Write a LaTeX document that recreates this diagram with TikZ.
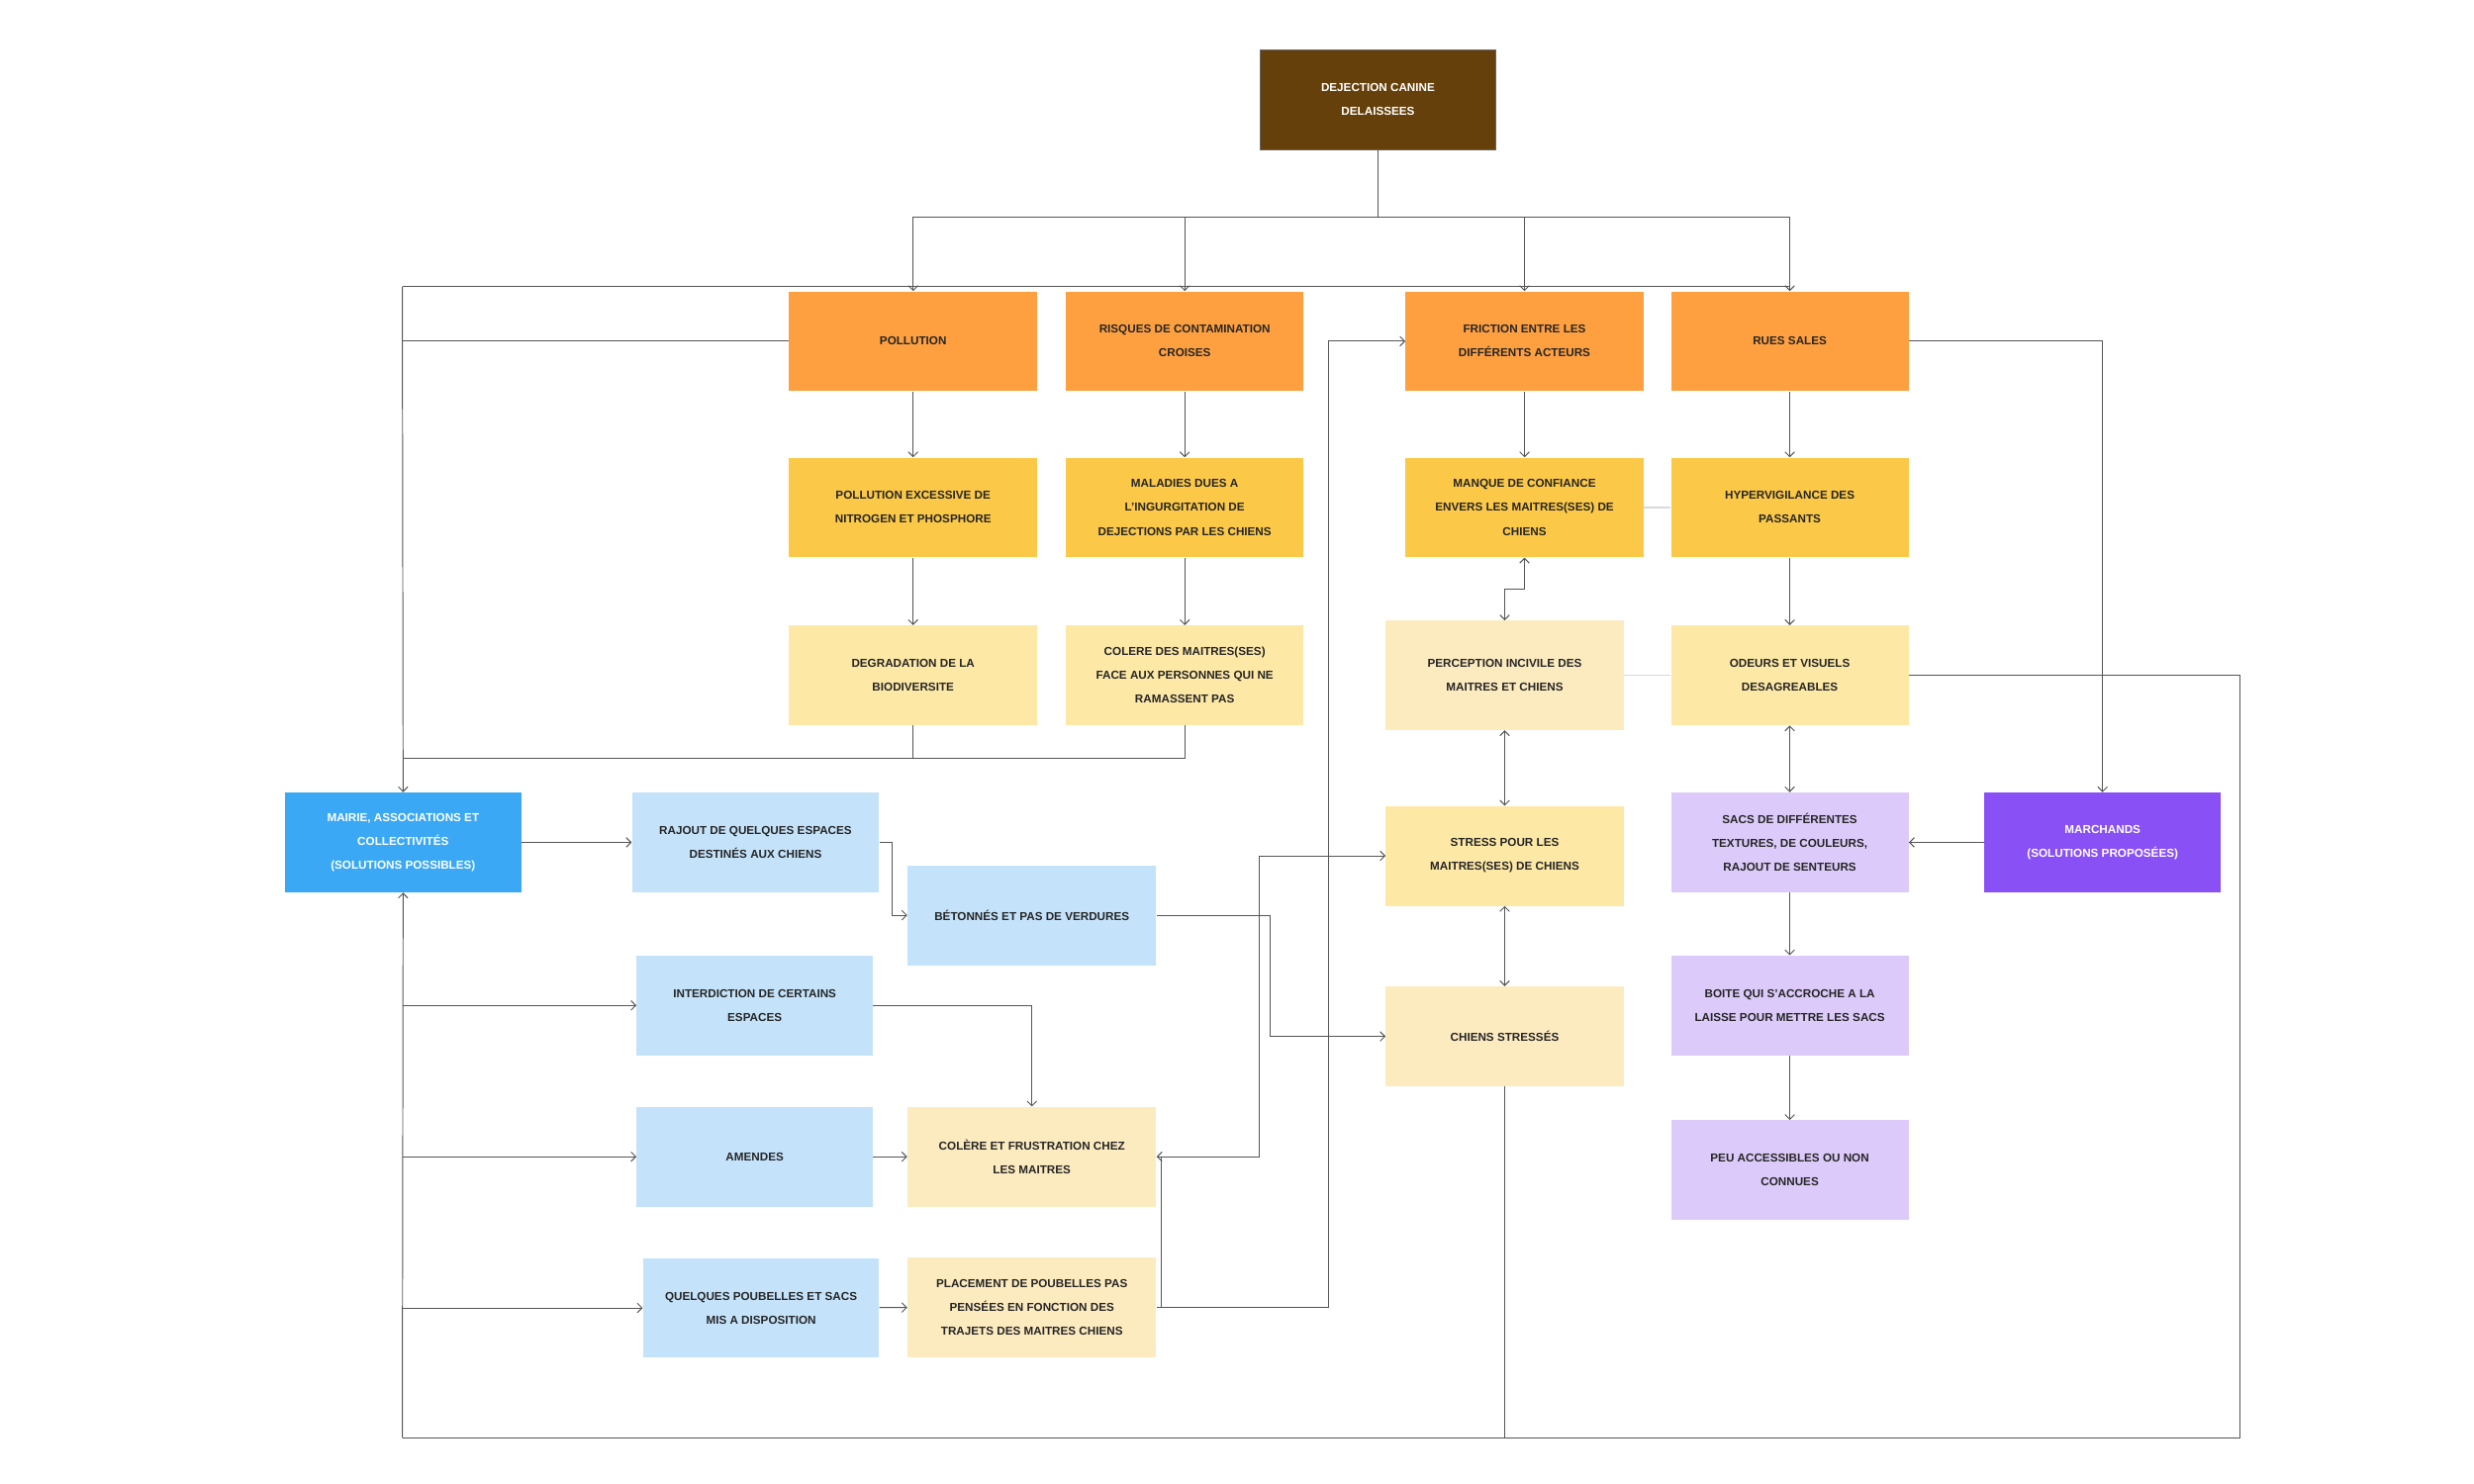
\documentclass[tikz,border=0pt]{standalone}
\usepackage{fontspec}
\setmainfont{Liberation Sans}
\usetikzlibrary{arrows.meta}
\definecolor{brn}{HTML}{66400A}
\definecolor{org}{HTML}{FFA040}
\definecolor{yel}{HTML}{FCC847}
\definecolor{pyel}{HTML}{FDE8A6}
\definecolor{pale}{HTML}{FDEBC0}
\definecolor{blu}{HTML}{3AA8F5}
\definecolor{lblu}{HTML}{C4E3FB}
\definecolor{lav}{HTML}{DCCBFA}
\definecolor{pur}{HTML}{8850F5}
\definecolor{ln}{HTML}{555555}
\begin{document}
\begin{tikzpicture}[x=1pt,y=-1pt,
 box/.style={minimum width=150pt,minimum height=63pt,inner sep=1pt,align=center,
   font=\fontsize{7.3}{15}\selectfont\bfseries,text=black!85},
 c/.style={draw=ln,line width=0.6pt},
 a/.style={c,-{Straight Barb[length=3pt,width=6pt]}},
 b/.style={c,{Straight Barb[length=3pt,width=6pt]}-{Straight Barb[length=3pt,width=6pt]}},
 lt/.style={draw=black!15,line width=0.8pt}]
\useasboundingbox (0,0) rectangle (1562,937);
\node[box,fill=brn,draw=black!60,text=white,minimum width=149pt] (top) at (870,63) {DEJECTION CANINE\\DELAISSEES};
% row1
\node[box,fill=org,minimum width=157pt] (p1) at (576.5,215.5) {POLLUTION};
\node[box,fill=org] (r1) at (748,215.5) {RISQUES DE CONTAMINATION\\CROISES};
\node[box,fill=org] (f1) at (962.5,215.5) {FRICTION ENTRE LES\\DIFFÉRENTS ACTEURS};
\node[box,fill=org] (s1) at (1130,215.5) {RUES SALES};
% row2
\node[box,fill=yel,minimum width=157pt] (p2) at (576.5,320.5) {POLLUTION EXCESSIVE DE\\NITROGEN ET PHOSPHORE};
\node[box,fill=yel] (r2) at (748,320.5) {MALADIES DUES A\\L'INGURGITATION DE\\DEJECTIONS PAR LES CHIENS};
\node[box,fill=yel] (f2) at (962.5,320.5) {MANQUE DE CONFIANCE\\ENVERS LES MAITRES(SES) DE\\CHIENS};
\node[box,fill=yel] (s2) at (1130,320.5) {HYPERVIGILANCE DES\\PASSANTS};
% row3
\node[box,fill=pyel,minimum width=157pt] (p3) at (576.5,426.5) {DEGRADATION DE LA\\BIODIVERSITE};
\node[box,fill=pyel] (r3) at (748,426.5) {COLERE DES MAITRES(SES)\\FACE AUX PERSONNES QUI NE\\RAMASSENT PAS};
\node[box,fill=pale,minimum height=69pt] (pc) at (950,426.5) {PERCEPTION  INCIVILE DES\\MAITRES  ET CHIENS};
\node[box,fill=pyel] (od) at (1130,426.5) {ODEURS ET VISUELS\\DESAGREABLES};
% middle
\node[box,fill=blu,text=white,minimum width=149pt] (ma) at (254.5,532) {MAIRIE, ASSOCIATIONS ET\\COLLECTIVITÉS\\(SOLUTIONS POSSIBLES)};
\node[box,fill=lblu,minimum width=156pt] (ra) at (477,532) {RAJOUT DE QUELQUES ESPACES\\DESTINÉS AUX CHIENS};
\node[box,fill=lblu,minimum width=157pt] (be) at (651.5,578) {BÉTONNÉS ET PAS DE VERDURES};
\node[box,fill=pyel] (st) at (950,540.5) {STRESS POUR LES\\MAITRES(SES) DE CHIENS};
\node[box,fill=lav] (sa) at (1130,532) {SACS DE DIFFÉRENTES\\TEXTURES, DE COULEURS,\\RAJOUT DE SENTEURS};
\node[box,fill=pur,text=white,minimum width=149pt] (mr) at (1327.5,532) {MARCHANDS\\(SOLUTIONS PROPOSÉES)};
\node[box,fill=lblu,minimum width=149pt] (in) at (476.5,635) {INTERDICTION DE CERTAINS\\ESPACES};
\node[box,fill=pale] (cs) at (950,654.5) {CHIENS STRESSÉS};
\node[box,fill=lav] (bo) at (1130,635) {BOITE QUI S'ACCROCHE A LA\\LAISSE POUR METTRE LES SACS};
\node[box,fill=lblu,minimum width=149pt] (am) at (476.5,730.5) {AMENDES};
\node[box,fill=pale,minimum width=157pt] (co) at (651.5,730.5) {COLÈRE ET FRUSTRATION CHEZ\\LES MAITRES};
\node[box,fill=lav] (pe) at (1130,739) {PEU ACCESSIBLES OU NON\\CONNUES};
\node[box,fill=lblu,minimum width=149pt] (qu) at (480.5,826) {QUELQUES POUBELLES ET SACS\\MIS A DISPOSITION};
\node[box,fill=pale,minimum width=157pt] (pl) at (651.5,825.5) {PLACEMENT DE POUBELLES PAS\\PENSÉES EN FONCTION DES\\TRAJETS DES MAITRES CHIENS};
\coordinate (j) at (870,137);
\coordinate (bl) at (254,908);
\coordinate (br) at (1414,908);
\coordinate (bc) at (950,908);
\draw[lt] (f2.east) -- (s2.west);
\draw[lt] (pc.east) -- (od.west);
% top fan
\draw[c] (top.south) -- (j);
\draw[a] (j) -| (p1.north);
\draw[a] (j) -| (r1.north);
\draw[a] (j) -| (f1.north);
\draw[a] (j) -| (s1.north);
% left frame
\draw[c] (254,181) -- (1130,181);
\draw[c] (p1.west) -- (254,215.5);
\draw[a] (254,181) -- (ma.north);
\draw[c] (p3.south) |- (254,479);
\draw[c] (r3.south) |- (576.5,479);
% columns
\draw[a] (p1) -- (p2); \draw[a] (p2) -- (p3);
\draw[a] (r1) -- (r2); \draw[a] (r2) -- (r3);
\draw[a] (f1) -- (f2);
\draw[a] (s1) -- (s2); \draw[a] (s2) -- (od);
\draw[b] (f2.south) -- (962.5,372) -- (950,372) -- (pc.north);
\draw[b] (pc) -- (st);
\draw[b] (st) -- (cs);
\draw[b] (od) -- (sa);
\draw[a] (sa) -- (bo); \draw[a] (bo) -- (pe);
\draw[a] (s1.east) -| (mr.north);
\draw[a] (mr) -- (sa);
% bottom loop
\draw[c] (od.east) -| (br) -- (bl);
\draw[a] (bl) -- (ma.south);
\draw[c] (cs.south) -- (bc);
% blue solutions
\draw[a] (ma) -- (ra);
\draw[a] (ra.east) -- (563,532) |- (be.west);
\draw[a] (be.east) -- (802,578) |- (cs.west);
\draw[a] (254,635) -- (in.west);
\draw[a] (254,730.5) -- (am.west);
\draw[a] (254,826) -- (qu.west);
\draw[a] (in.east) -| (co.north);
\draw[a] (am) -- (co);
\draw[a] (qu) -- (pl);
\draw[b] (co.east) -- (795,730.5) |- (st.west);
\draw[a] (pl.east) -- (839,825.5) |- (f1.west);
\draw[c] (733,730.5) -- (733,825.5);
\end{tikzpicture}
\end{document}
